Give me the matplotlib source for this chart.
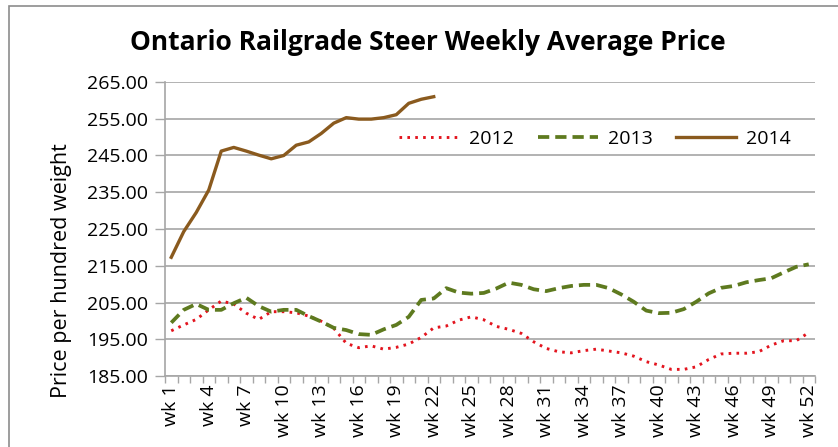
import matplotlib
matplotlib.use("Agg")
import matplotlib.pyplot as plt
from matplotlib.patches import Rectangle

weeks = [f"wk {i}" for i in range(1, 53)]

y2012 = [197.3, 198.9, 200.4, 203.0, 205.4, 204.6, 202.1, 200.4, 202.5, 202.5,
         202.2, 201.3, 199.9, 198.0, 193.9, 192.7, 193.2, 192.3, 192.8, 193.7,
         195.5, 198.1, 198.6, 200.2, 201.1, 200.3, 198.5, 197.7, 196.6, 194.3,
         192.5, 191.6, 191.3, 191.9, 192.3, 191.8, 191.3, 190.4, 188.9, 188.0,
         186.8, 186.8, 187.5, 189.5, 191.0, 191.2, 191.2, 191.6, 193.4, 194.6,
         194.6, 196.8]

y2013 = [199.5, 203.0, 204.6, 203.0, 203.0, 204.8, 206.3, 204.0, 202.5, 203.0,
         203.0, 201.3, 199.8, 198.1, 197.5, 196.4, 196.2, 197.7, 198.9, 201.1,
         205.7, 206.1, 208.9, 207.7, 207.4, 207.6, 208.8, 210.4, 209.8, 208.6,
         208.1, 208.9, 209.5, 209.8, 209.8, 208.9, 207.2, 205.2, 202.8, 202.1,
         202.2, 203.2, 205.2, 207.5, 209.0, 209.5, 210.5, 211.1, 211.6, 213.2,
         214.7, 215.4]

y2014 = [217.3, 224.3, 229.5, 235.6, 246.2, 247.2, 246.2, 245.1, 244.1, 245.0,
         247.8, 248.7, 251.0, 253.8, 255.3, 254.9, 254.9, 255.3, 256.1, 259.2,
         260.3, 261.0]

yticks = [185, 195, 205, 215, 225, 235, 245, 255, 265]

FAM = ["Open Sans", "DejaVu Sans"]

fig = plt.figure(figsize=(8.38, 4.47), dpi=100)
ax = fig.add_axes([165/838, 1-376/447, 650/838, 294/447])

x12 = list(range(len(y2012)))
x13 = list(range(len(y2013)))
x14 = list(range(len(y2014)))

ax.plot(x12, y2012, color="#E3141E", lw=2.1, linestyle=(0, (0.9, 1.8)),
        dash_capstyle="butt", label="2012", zorder=3)
ax.plot(x13, y2013, color="#5E7A1F", lw=2.7, linestyle=(0, (3.0, 1.6)),
        label="2013", zorder=3)
ax.plot(x14, y2014, color="#8A5A1E", lw=2.4, linestyle="-",
        label="2014", zorder=4)

ax.set_xlim(-0.5, 51.5)
ax.set_ylim(185, 265)
ax.set_yticks(yticks)
ax.set_yticklabels([f"{v:.2f}" for v in yticks], fontsize=14, family=FAM)
ax.yaxis.grid(True, color="#a6a6a6", lw=1.2)
ax.set_axisbelow(True)

ax.set_xticks([i - 0.5 for i in range(53)], minor=True)
ax.set_xticks(list(range(0, 52, 3)))
ax.set_xticklabels([weeks[i] for i in range(0, 52, 3)], rotation=90,
                   fontsize=14, family=FAM)
ax.tick_params(axis="x", which="major", length=0, pad=6)
ax.tick_params(axis="x", which="minor", length=5, color="#a6a6a6", width=1)
ax.tick_params(axis="y", length=7, color="#a6a6a6", width=1, pad=5)

for s in ["top", "right"]:
    ax.spines[s].set_visible(False)
for s in ["left", "bottom"]:
    ax.spines[s].set_color("#a6a6a6")
    ax.spines[s].set_linewidth(1.2)

ax.set_ylabel("Price per hundred weight", fontsize=15.5, family=FAM)
ax.yaxis.set_label_coords((72 - 165)/650, (376 - 271)/294)

fig.text(428/838, 1-42/447, "Ontario Railgrade Steer Weekly Average Price",
         ha="center", va="center", fontsize=19, fontweight="bold", family=FAM)

leg = ax.legend(loc="center", bbox_to_anchor=((595-165)/650, (376-139)/294),
                ncol=3, frameon=False, handlelength=3.1,
                columnspacing=1.2, handletextpad=0.5,
                prop={"family": FAM, "size": 14})

fig.patches.append(Rectangle((9/838, -0.1), 1.2, 1 - 6/447 + 0.1,
                             transform=fig.transFigure, fill=False,
                             edgecolor="#8c8c8c", lw=1.2))

fig.savefig("out.png", dpi=100)
